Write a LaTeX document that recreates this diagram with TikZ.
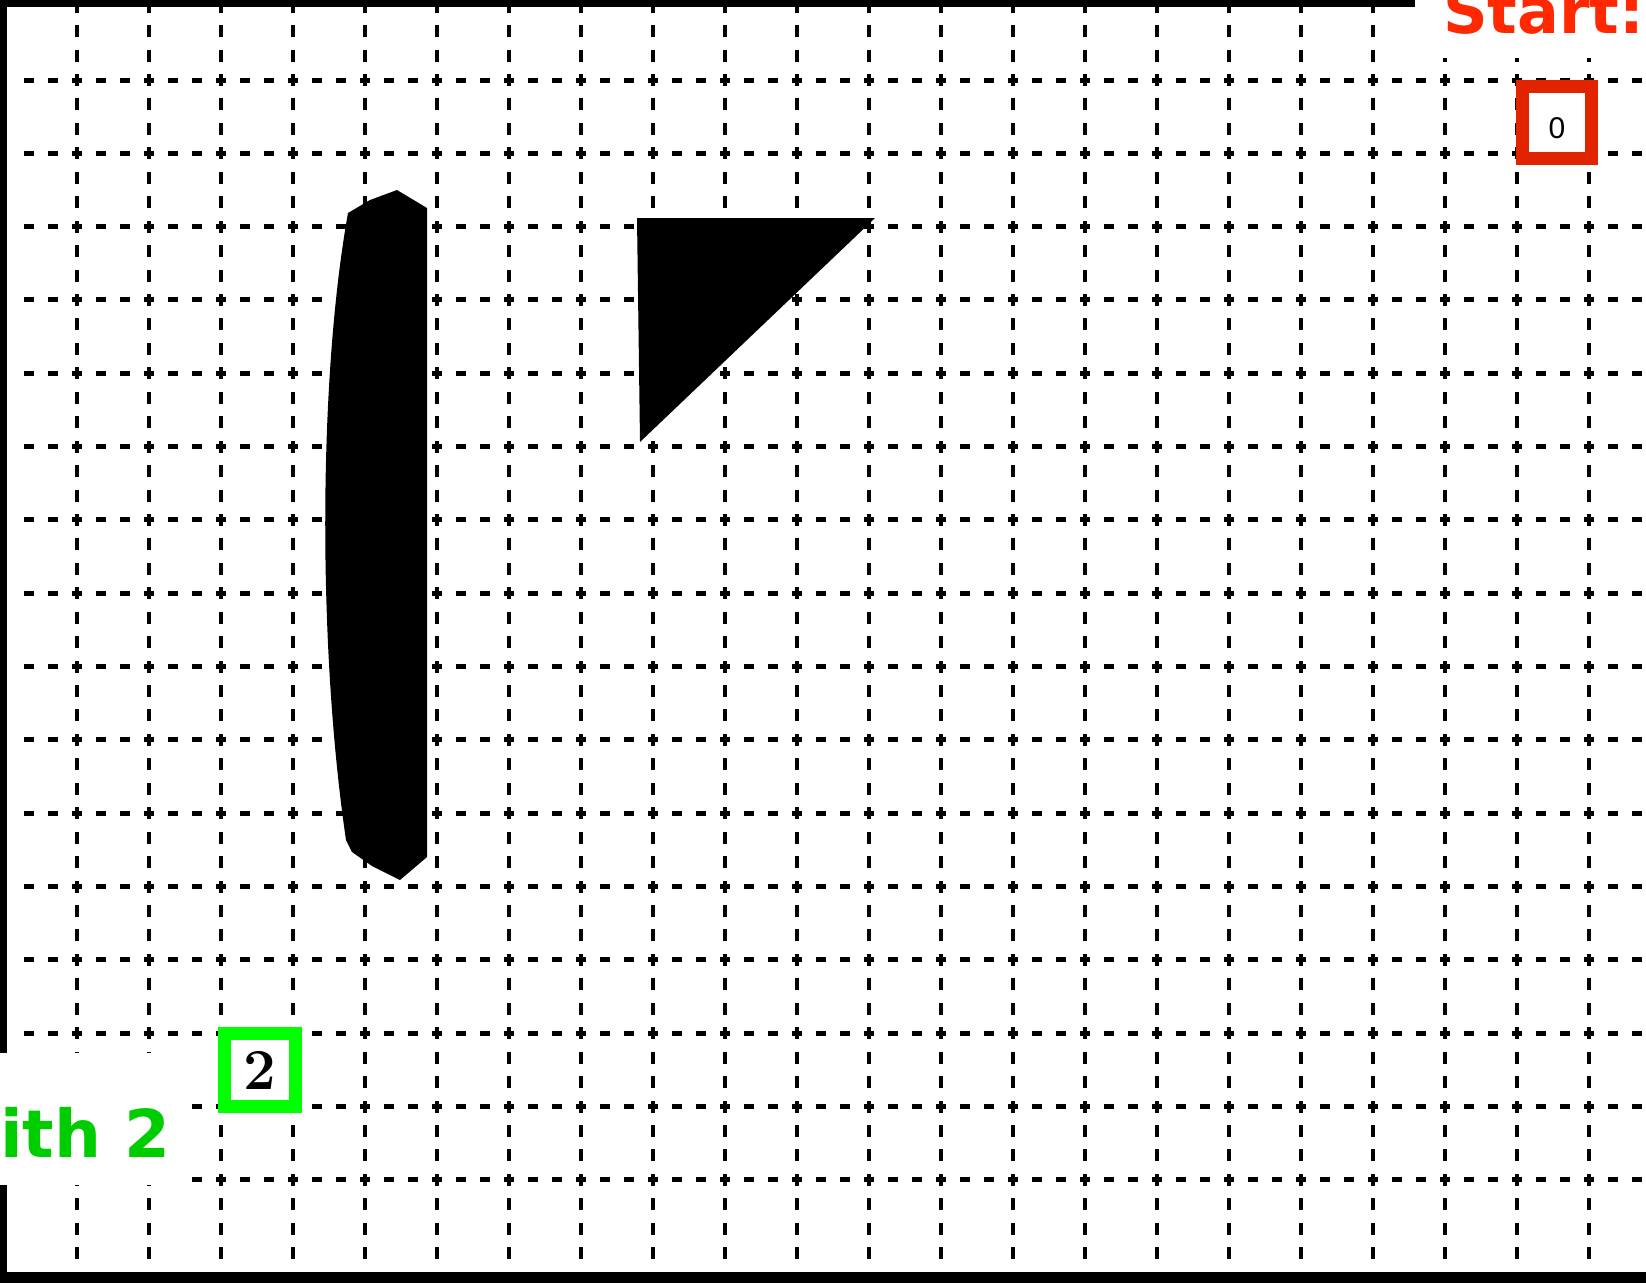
\documentclass[tikz,border=0pt]{standalone}
\usepackage{fontspec}
\usepackage{tikz}
\usetikzlibrary{calc}
\newfontfamily\markfont{DejaVu Sans}
\newfontfamily\cellfont{Liberation Sans}
\definecolor{startred}{RGB}{255, 40, 0}
\definecolor{boxred}{RGB}{225, 35, 0}
\definecolor{goalgreen}{RGB}{0, 205, 0}
\definecolor{boxgreen}{RGB}{0, 255, 0}

\tikzset{
  gridh/.style={line width=5pt, dash pattern=on 10pt off 14pt},
  gridv/.style={line width=4.5pt, dash pattern=on 12pt off 12.44pt},
  cellbox/.style={draw, fill=white, line width=13pt, minimum width=69pt, minimum height=72pt, inner sep=0pt},
}

\begin{document}
\begin{tikzpicture}[x=1pt, y=-1pt]
    \useasboundingbox (0,0) rectangle (1646,1283);
    \fill[white] (0,0) rectangle (1646,1283);
    % dotted grid
    \foreach \i in {0,...,15}
      \draw[gridh] (24,80+73.33*\i) -- (1646,80+73.33*\i);
    \foreach \j in {0,...,21}
      \draw[gridv] (77+72*\j,0.7) -- (77+72*\j,1272);
    % frame
    \fill (0,0) rectangle (1415,7);
    \fill (0,0) rectangle (7,1283);
    \fill (0,1272) rectangle (1646,1283);
    % obstacles
    \fill (397,190) -- (427,208) -- (427,857) -- (400,880) -- (372,866) -- (352,852)
      -- (346,840) .. controls (318,650) and (318,380) .. (348,213) -- (370,200) -- cycle;
    \fill (637,218) -- (875,218) -- (640,442) -- cycle;
    % labels
    \fill[white] (1415,0) rectangle (1646,58);
    \fill[white] (0,1053) rectangle (184,1185);
    \node[anchor=base west, inner sep=0pt, text=startred, font=\markfont\bfseries\fontsize{62}{64}\selectfont] (start) at (1443,33) {Start:};
    \node[anchor=base west, inner sep=0pt, text=goalgreen, font=\markfont\bfseries\fontsize{66}{68}\selectfont] (goal) at (0,1157) {ith 2};
    \node[cellbox, draw=boxred, text height=31pt, text depth=0pt, font=\cellfont\fontsize{30}{32}\selectfont] (first) at (1557,122.5) {0};
    \node[cellbox, draw=boxgreen, minimum width=71pt, minimum height=73pt, font=\bfseries\fontsize{58}{60}\selectfont] (last) at (260,1070) {2};
\end{tikzpicture}
\end{document}
